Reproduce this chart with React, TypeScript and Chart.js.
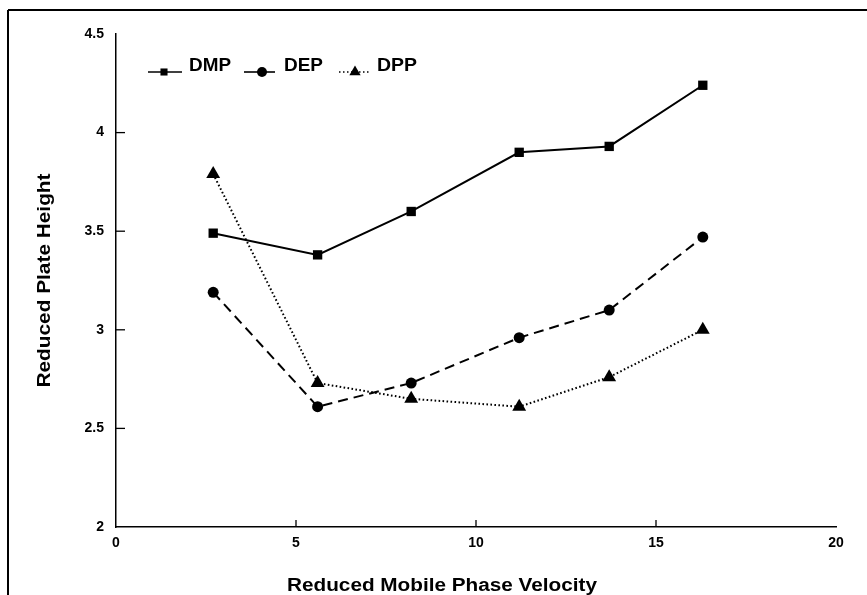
import React, { useEffect, useRef } from "react";
import { Chart, registerables } from "chart.js";

Chart.register(...registerables);

const xValues = [2.7, 5.6, 8.2, 11.2, 13.7, 16.3];
const dmpValues = [3.49, 3.38, 3.6, 3.9, 3.93, 4.24];
const depValues = [3.19, 2.61, 2.73, 2.96, 3.1, 3.47];
const dppValues = [3.79, 2.73, 2.65, 2.61, 2.76, 3.0];
const seriesNames = ["DMP", "DEP", "DPP"];
const xTitle = "Reduced Mobile Phase Velocity";
const yTitle = "Reduced Plate Height";

const FONT = "'Liberation Sans', Arial, Helvetica, sans-serif";

function toPoints(ys: number[]) {
  return xValues.map((x, i) => ({ x, y: ys[i] }));
}

function stretchedText(ctx: CanvasRenderingContext2D, text: string, x: number, y: number, targetW: number, align: "left" | "center") {
  const w = ctx.measureText(text).width;
  const k = targetW / w;
  ctx.save();
  ctx.translate(x, y);
  ctx.scale(k, 1);
  ctx.textAlign = align;
  ctx.fillText(text, 0, 0);
  ctx.restore();
}

function drawPoint(ctx: CanvasRenderingContext2D, style: string, r: number, x: number, y: number) {
  ctx.beginPath();
  if (style === "rect") {
    const s = r * Math.SQRT1_2;
    ctx.rect(x - s, y - s, 2 * s, 2 * s);
  } else if (style === "circle") {
    ctx.arc(x, y, r, 0, Math.PI * 2);
  } else {
    ctx.moveTo(x, y - r);
    ctx.lineTo(x + r * 0.866, y + r * 0.5);
    ctx.lineTo(x - r * 0.866, y + r * 0.5);
    ctx.closePath();
  }
  ctx.fill();
}

const extrasPlugin = {
  id: "extras",
  beforeDraw(chart: any) {
    const ctx = chart.ctx;
    ctx.save();
    ctx.fillStyle = "#ffffff";
    ctx.fillRect(0, 0, chart.width, chart.height);
    ctx.strokeStyle = "#000";
    ctx.lineWidth = 2;
    ctx.beginPath();
    ctx.moveTo(8, 10);
    ctx.lineTo(chart.width, 10);
    ctx.moveTo(8, 10);
    ctx.lineTo(8, chart.height);
    ctx.stroke();
    ctx.restore();
  },
  afterDraw(chart: any) {
    const ctx = chart.ctx;
    const xs = chart.scales.x;
    const ys = chart.scales.y;
    const area = chart.chartArea;
    ctx.save();
    ctx.strokeStyle = "#000";
    ctx.lineWidth = 1.3;
    xs.ticks.forEach((t: any) => {
      if (t.value <= xs.min || t.value >= xs.max) return;
      const px = xs.getPixelForValue(t.value);
      ctx.beginPath();
      ctx.moveTo(px, area.bottom);
      ctx.lineTo(px, area.bottom - 7);
      ctx.stroke();
    });
    ys.ticks.forEach((t: any) => {
      if (t.value <= ys.min || t.value >= ys.max) return;
      const py = ys.getPixelForValue(t.value);
      ctx.beginPath();
      ctx.moveTo(area.left, py);
      ctx.lineTo(area.left + 9, py);
      ctx.stroke();
    });

    ctx.fillStyle = "#000";
    ctx.font = `bold 18px ${FONT}`;
    ctx.textBaseline = "middle";
    stretchedText(ctx, xTitle, 442, 586, 310, "center");
    ctx.save();
    ctx.translate(45, (area.top + area.bottom) / 2);
    ctx.rotate(-Math.PI / 2);
    stretchedText(ctx, yTitle, 0, 0, 214, "center");
    ctx.restore();

    const ly = 66.5;
    const items = [
      { x0: 148, x1: 182, mx: 164, tx: 189, w: 42, dash: [] as number[], style: "rect", r: 5 },
      { x0: 244, x1: 275, mx: 262, tx: 284, w: 39, dash: [] as number[], style: "circle", r: 5 },
      { x0: 339, x1: 369, mx: 355, tx: 377, w: 40, dash: [1.5, 2.5], style: "triangle", r: 6.5 },
    ];
    items.forEach((it, i) => {
      ctx.save();
      ctx.strokeStyle = "#000";
      ctx.lineWidth = 1.6;
      ctx.setLineDash(it.dash);
      ctx.beginPath();
      ctx.moveTo(it.x0, 72);
      ctx.lineTo(it.x1, 72);
      ctx.stroke();
      ctx.restore();
      ctx.fillStyle = "#000";
      drawPoint(ctx, it.style, it.r, it.mx, 72);
      ctx.font = `bold 18px ${FONT}`;
      ctx.textBaseline = "middle";
      stretchedText(ctx, seriesNames[i], it.tx, ly, it.w, "left");
    });
    ctx.restore();
  },
};

export default function App() {
  const ref = useRef<HTMLCanvasElement | null>(null);
  useEffect(() => {
    if (!ref.current) return;
    const chart = new Chart(ref.current, {
      type: "line",
      data: {
        datasets: [
          {
            label: seriesNames[0],
            data: toPoints(dmpValues),
            borderColor: "#000",
            backgroundColor: "#000",
            borderWidth: 2,
            pointStyle: "rect",
            pointRadius: 6.6,
            pointBorderWidth: 0,
            tension: 0,
          },
          {
            label: seriesNames[1],
            data: toPoints(depValues),
            borderColor: "#000",
            backgroundColor: "#000",
            borderWidth: 2,
            borderDash: [10, 6],
            pointStyle: "circle",
            pointRadius: 5.5,
            pointBorderWidth: 0,
            tension: 0,
          },
          {
            label: seriesNames[2],
            data: toPoints(dppValues),
            borderColor: "#000",
            backgroundColor: "#000",
            borderWidth: 2,
            borderDash: [1.6, 2.4],
            pointStyle: "triangle",
            pointRadius: 8,
            pointBorderWidth: 0,
            tension: 0,
          },
        ],
      },
      options: {
        animation: false,
        responsive: false,
        devicePixelRatio: 1,
        layout: { padding: { top: 34, right: 31, left: 0, bottom: 0 } },
        plugins: { legend: { display: false }, tooltip: { enabled: false }, title: { display: false } },
        scales: {
          x: {
            type: "linear",
            min: 0,
            max: 20,
            ticks: {
              stepSize: 5,
              color: "#000",
              font: { family: FONT, size: 14, weight: "bold" },
              padding: 8,
              maxRotation: 0,
              callback: (v: any) => String(v),
            },
            grid: { display: true, drawOnChartArea: false, drawTicks: false },
            border: { display: true, color: "#000", width: 1.5 },
            afterFit: (s: any) => {
              s.height = 68;
            },
          },
          y: {
            type: "linear",
            min: 2,
            max: 4.5,
            ticks: {
              stepSize: 0.5,
              color: "#000",
              font: { family: FONT, size: 14, weight: "bold" },
              padding: 12,
              callback: (v: any) => String(Math.round(v * 10) / 10),
            },
            grid: { display: true, drawOnChartArea: false, drawTicks: false },
            border: { display: true, color: "#000", width: 1.5 },
            afterFit: (s: any) => {
              s.width = 116;
            },
          },
        },
      },
      plugins: [extrasPlugin],
    } as any);
    return () => chart.destroy();
  }, []);
  return (
    <div style={{ position: "fixed", left: 0, top: 0, width: 867, height: 595, background: "#fff" }}>
      <canvas ref={ref} width={867} height={595} style={{ display: "block", width: 867, height: 595 }} />
    </div>
  );
}
